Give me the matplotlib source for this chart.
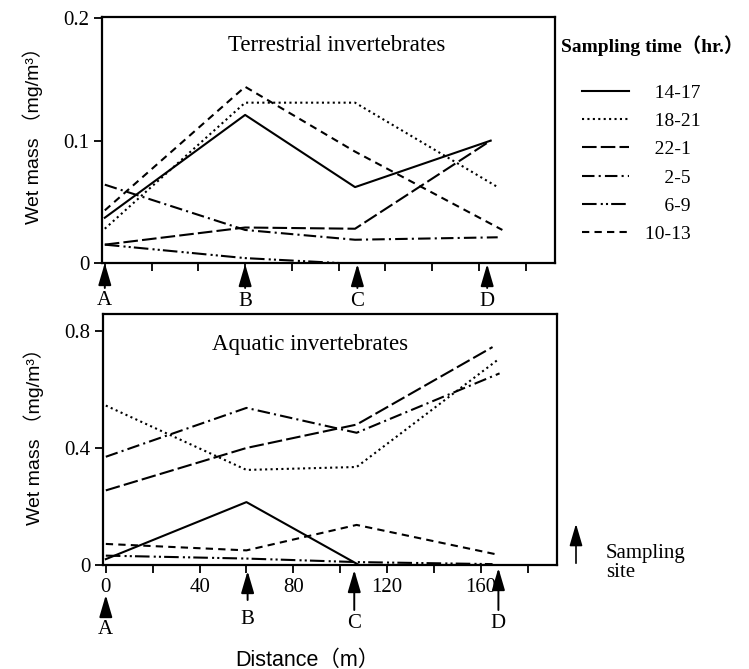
import numpy as np
import matplotlib
matplotlib.use('Agg')
import matplotlib.pyplot as plt
from matplotlib.ticker import MultipleLocator

plt.rcParams['font.family'] = ['Liberation Serif', 'Noto Sans CJK SC']

# sampling sites (m), as marked under each panel
site_names = ['A', 'B', 'C', 'D']
site_x_top = [0, 60, 108, 163.5]
site_x_bot = [0, 60.5, 106, 167.5]

labels = ['14-17', '18-21', '22-1', '2-5', '6-9', '10-13']
styles = ['-', (0, (1, 1.6)), (0, (7, 2)), (0, (6, 2, 1, 2)),
          (0, (7, 2, 1, 1.5, 1, 1.5)), (0, (3.5, 2.5))]

# terrestrial invertebrates (mg/m3)
terr_x = [[0, 60, 107, 165], [0, 60, 107, 168], [0, 60, 107, 165],
          [0, 60, 107, 168], [0, 60, 100], [0, 60, 107, 170]]
terr_y = [[0.037, 0.121, 0.062, 0.100],
          [0.028, 0.131, 0.131, 0.062],
          [0.015, 0.029, 0.028, 0.100],
          [0.064, 0.027, 0.019, 0.021],
          [0.015, 0.004, 0.0],
          [0.043, 0.144, 0.091, 0.027]]

# aquatic invertebrates (mg/m3)
aqua_x = [[0, 60, 108, 165], [0, 60, 107, 167], [0, 60, 107, 165],
          [0, 60, 107, 168], [0, 60, 107, 165], [0, 60, 107, 168]]
aqua_y = [[0.020, 0.215, 0.0, 0.0],
          [0.545, 0.325, 0.335, 0.700],
          [0.255, 0.400, 0.480, 0.745],
          [0.370, 0.537, 0.452, 0.655],
          [0.032, 0.022, 0.010, 0.003],
          [0.072, 0.050, 0.137, 0.034]]

W, H = 749, 669
fig = plt.figure(figsize=(W / 100, H / 100), dpi=100)
ax1 = fig.add_axes([102 / W, 1 - 263 / H, 453 / W, 246 / H])
ax2 = fig.add_axes([103 / W, 1 - 565 / H, 454 / W, 251 / H])

fs = 15
lines = []
for i in range(len(labels)):
    l, = ax1.plot(terr_x[i], terr_y[i], color='k', lw=1.5, ls=styles[i], label=labels[i])
    lines.append(l)
    ax2.plot(aqua_x[i], aqua_y[i], color='k', lw=1.5, ls=styles[i])

for ax in (ax1, ax2):
    ax.set_xlim(-1.2, 192.5)
    for s in ax.spines.values():
        s.set_linewidth(1.6)
    ax.tick_params(direction='out', length=6, width=1.3, labelsize=fs, pad=3)
    ax.tick_params(axis='x', which='minor', direction='out', length=6, width=1.3)

ax1.set_ylim(0, 0.201)
ax1.set_yticks([0, 0.1, 0.2])
ax1.set_yticklabels(['0', '0.1', '0.2'])
ax1.xaxis.set_major_locator(MultipleLocator(20))
ax1.set_xticklabels([])

ax2.set_ylim(0, 0.858)
ax2.set_yticks([0, 0.4, 0.8])
ax2.set_yticklabels(['0', '0.4', '0.8'])
ax2.xaxis.set_major_locator(MultipleLocator(40))
ax2.xaxis.set_minor_locator(MultipleLocator(20))

ax1.text(0.517, 0.886, 'Terrestrial invertebrates', transform=ax1.transAxes,
         ha='center', va='center', fontsize=16.5)
ax2.text(0.456, 0.877, 'Aquatic invertebrates', transform=ax2.transAxes,
         ha='center', va='center', fontsize=16.5)

sans = ['Liberation Sans', 'Noto Sans CJK SC']
ax1.set_ylabel('Wet mass （mg/m³）', family=sans, fontsize=14)
ax2.set_ylabel('Wet mass （mg/m³）', family=sans, fontsize=14)
ax1.yaxis.set_label_coords(-0.13, 0.537)
ax2.yaxis.set_label_coords(-0.13, 0.53)
fig.text(307 / W, 1 - 660 / H, 'Distance（m）', family=sans, fontsize=15.5,
         ha='center', va='center')


def site_arrows(ax, xs, head_px, tail_px, label_px):
    hpx = ax.get_position().height * H
    tr = ax.get_xaxis_transform()
    for k, x in enumerate(xs):
        ax.annotate('', xy=(x, -head_px[k] / hpx), xycoords=tr,
                    xytext=(x, -tail_px[k] / hpx), textcoords=tr,
                    arrowprops=dict(arrowstyle='-|>,head_length=0.75,head_width=0.22',
                                    color='k', lw=1.4, mutation_scale=18,
                                    shrinkA=0, shrinkB=0),
                    annotation_clip=False)
        ax.text(x, -label_px[k] / hpx, site_names[k], transform=tr,
                ha='center', va='center', fontsize=fs, clip_on=False)


site_arrows(ax1, site_x_top, [0, 1, 1, 1], [25, 25, 25, 25], [38, 39, 39, 39])
site_arrows(ax2, site_x_bot, [30, 6, 5, 3], [48, 35, 45, 45], [65, 54, 59, 58])

fig.text(561 / W, 1 - 46 / H, 'Sampling time（hr.）', fontsize=14, fontweight='bold',
         ha='left', va='center')
leg = fig.legend(handles=lines,
                 labels=['   14-17', '   18-21', '   22-1', '     2-5', '     6-9', ' 10-13'],
                 loc='upper left', bbox_to_anchor=(582 / W, 1 - 84 / H),
                 frameon=False, fontsize=14, handlelength=2.4, handletextpad=0.6,
                 labelspacing=0.55, borderpad=0, borderaxespad=0)

fig.add_artist(matplotlib.patches.FancyArrowPatch(
    (576 / W, 1 - 566 / H), (576 / W, 1 - 521 / H), transform=fig.transFigure,
    arrowstyle='-|>,head_length=0.75,head_width=0.22', mutation_scale=18,
    color='k', lw=1.2))
fig.text(606 / W, 1 - 563 / H, 'Sampling\nsite', fontsize=fs, ha='left', va='center',
         linespacing=1.05)

fig.savefig('out.png', dpi=100, facecolor='white')
